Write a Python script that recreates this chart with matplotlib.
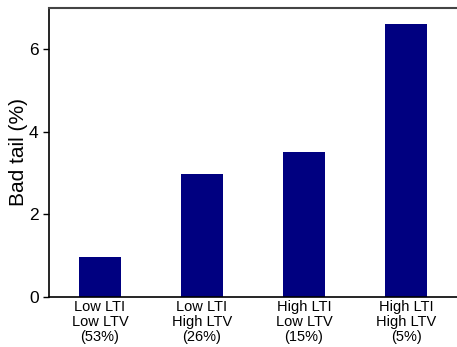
import matplotlib.pyplot as plt

categories = ["Low LTI\nLow LTV\n(53%)", "Low LTI\nHigh LTV\n(26%)",
              "High LTI\nLow LTV\n(15%)", "High LTI\nHigh LTV\n(5%)"]
bad_tail = [0.97, 2.98, 3.51, 6.61]

plt.rcParams['font.family'] = ['Liberation Sans', 'DejaVu Sans']

fig = plt.figure(figsize=(4.57, 3.47), dpi=100)
ax = fig.add_axes([49/457, 50/347, 408/457, 289/347])

ax.bar(range(len(categories)), bad_tail, width=0.41, color="#000080")

ax.set_xlim(-0.5, 3.5)
ax.set_ylim(0, 7)
ax.set_yticks([0, 2, 4, 6])
ax.set_xticks(range(len(categories)))
ax.set_xticklabels(categories, fontsize=10.5, linespacing=1.1)
ax.tick_params(axis='x', length=0, pad=2)
ax.tick_params(axis='y', labelsize=12.5, length=4, width=1)

ax.set_ylabel("Bad tail (%)", fontsize=15, labelpad=1)

ax.spines['right'].set_visible(False)
ax.spines['top'].set_color('#444444')
ax.spines['top'].set_linewidth(1.5)
ax.spines['left'].set_linewidth(1.2)
ax.spines['bottom'].set_linewidth(1.2)

plt.savefig('out.png', dpi=100)
